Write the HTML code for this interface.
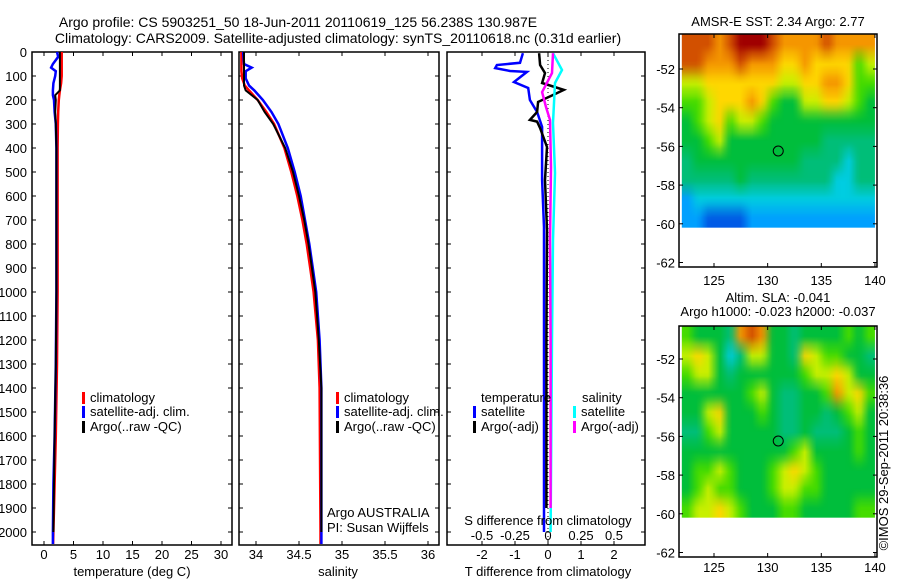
<!DOCTYPE html>
<html><head><meta charset="utf-8">
<style>
html,body{margin:0;padding:0;background:#fff;}
svg{display:block;font-family:"Liberation Sans",Arial,sans-serif;}
</style></head>
<body>
<svg id="chart" width="900" height="580" viewBox="0 0 900 580" xmlns="http://www.w3.org/2000/svg">
<text x="298" y="27" font-size="14" text-anchor="middle">Argo profile: CS 5903251_50 18-Jun-2011 20110619_125 56.238S 130.987E</text>
<text x="338" y="43" font-size="14" text-anchor="middle">Climatology: CARS2009. Satellite-adjusted climatology: synTS_20110618.nc (0.31d earlier)</text>
<g id="g"></g>
<text font-size="13" transform="translate(888,463) rotate(-90)" text-anchor="middle">©IMOS 29-Sep-2011 20:38:36</text>
</svg>
<script>
// ---- data ----
const tDepths=[0,20,50,65,80,100,130,160,180,200,250,300,400,500,700,1000,1300,1600,1800,2000,2050];
const tClim=[3.0,3.0,3.0,3.0,3.0,3.0,2.9,2.7,2.6,2.5,2.4,2.35,2.3,2.3,2.3,2.3,2.2,2.0,1.8,1.6,1.55];
const tSat=[2.2,2.4,1.5,1.2,2.0,1.9,1.6,1.5,1.5,1.7,1.8,2.0,2.1,2.1,2.1,2.1,2.0,1.8,1.6,1.5,1.5];
const tArgo=[2.7,2.7,2.7,2.7,2.7,2.7,2.7,2.7,1.9,2.0,1.9,2.0,2.1,2.1,2.1,2.1,2.0,1.8,1.7,1.6];
const sDepths=[0,50,65,80,110,140,160,200,250,300,400,500,600,700,800,900,1000,1200,1400,2000,2050];
const sClim=[33.83,33.83,33.83,33.83,33.84,33.87,33.92,34.02,34.12,34.21,34.33,34.41,34.48,34.54,34.59,34.63,34.67,34.72,34.74,34.75,34.75];
const sSat=[33.85,33.86,33.95,33.88,33.88,33.92,33.98,34.08,34.18,34.26,34.37,34.45,34.52,34.57,34.62,34.66,34.70,34.74,34.76,34.76,34.76];
const sArgo=[33.86,33.86,33.86,33.86,33.86,33.86,33.88,34.02,34.10,34.20,34.34,34.43,34.50,34.56,34.61,34.65,34.69,34.73,34.76,34.76];
const dtSatDepth=[5,45,54,67,79,83,125,150,200,250,312,533,730,1000,1500,2000];
const dtSat=[-0.76,-0.85,-1.55,-1.6,-1.15,-0.64,-1.03,-0.6,-0.55,-0.33,-0.18,-0.18,-0.12,-0.12,-0.12,-0.12];
const dtArgoDepth=[5,54,88,129,158,179,208,250,283,290,317,396,533,742,1200,1900];
const dtArgo=[-0.27,-0.24,-0.09,-0.18,0.48,0.15,-0.3,-0.33,-0.55,-0.33,-0.24,-0.03,-0.09,-0.03,-0.05,-0.05];
const dsSatDepth=[5,75,129,296,504,783,1200,2000];
const dsSat=[0.038,0.106,0.053,0.038,0.053,0.038,0.03,0.02];
const dsArgoDepth=[5,88,167,229,283,479,783,1200,1900];
const dsArgo=[0.038,0.03,-0.045,-0.015,0.015,0.023,0.015,0.02,0.02];
const depthTicks=[0,100,200,300,400,500,600,700,800,900,1000,1100,1200,1300,1400,1500,1600,1700,1800,1900,2000];
const tTicks=[0,5,10,15,20,25,30];
const sTicks=[34,34.5,35,35.5,36];
const sTickLabels=["34","34.5","35","35.5","36"];
const dTTicks=[-2,-1,0,1,2];
const dSTicks=[-0.5,-0.25,0,0.25,0.5];
const dSTickLabels=["-0.5","-0.25","0","0.25","0.5"];
const latTicks=[-52,-54,-56,-58,-60,-62];
const lonTicks=[125,130,135,140];
const argoPos=[130.987,-56.238];
const palette=[[0,90,230],[0,160,255],[0,205,225],[0,190,120],[0,190,60],[70,220,0],[200,240,0],[255,215,0],[245,150,0],[210,80,0],[160,0,0]];
const sstGrid=[
[9,9,9,8,9,10,10,10,9,8,8,8,8,9,8,8,8,8],
[9,9,8,8,8,9,8,8,8,7,7,8,7,7,7,7,5,6],
[6,6,7,7,7,7,7,7,7,6,6,7,7,8,8,7,5,5],
[5,5,6,7,7,7,8,7,5,4,4,6,6,7,7,6,5,4],
[4,5,6,7,5,6,6,5,4,4,4,4,4,4,4,4,4,4],
[4,4,5,6,4,4,4,4,4,4,4,4,4,3,3,3,3,3],
[3,4,4,4,4,4,4,4,4,4,4,3,3,3,3,2,3,3],
[3,3,3,3,3,4,3,3,3,3,3,3,3,3,2,2,3,3],
[1,2,2,2,2,2,2,2,2,2,2,2,2,2,2,2,2,2],
[1,1,0,0,0,0,1,1,1,1,1,1,1,1,1,1,1,1]];
const slaGrid=[
[5,4,4,4,3,8,9,8,4,4,3,4,4,4,4,5,4,5],
[6,7,6,4,2,3,6,6,4,4,3,7,6,5,5,4,4,3],
[5,6,6,4,3,4,4,4,4,4,4,5,6,6,7,6,4,4],
[4,4,4,4,4,4,5,6,4,3,3,4,4,5,8,6,7,5],
[4,4,6,7,4,4,4,5,4,3,3,4,4,3,4,5,6,4],
[3,3,5,6,4,4,4,4,4,3,3,4,3,3,3,4,5,4],
[4,4,4,4,4,4,4,4,4,4,5,6,4,4,4,4,5,4],
[4,5,5,6,5,4,4,4,5,6,7,6,5,4,4,4,4,4],
[4,5,6,5,5,4,4,4,5,6,6,5,5,4,4,4,4,4],
[5,6,6,7,6,5,4,4,4,5,5,4,4,4,4,4,5,5]];
const gridLon0=122, gridLat0=-50.2, gridStep=1;

// ---- helpers ----
const NS="http://www.w3.org/2000/svg";
const G=document.getElementById('g');
function el(tag,attrs,parent){const e=document.createElementNS(NS,tag);for(const k in attrs)e.setAttribute(k,attrs[k]);(parent||G).appendChild(e);return e;}
function txt(x,y,s,anchor,size,name){const t=el('text',{x:x,y:y,'font-size':size||13,'text-anchor':anchor||'start'});t.textContent=s;


return t;}
const Y=d=>52+d*0.24;
const PB=545;
function panel(x0,x1,name){const r=el('rect',{x:x0,y:52,width:x1-x0,height:PB-52,fill:'none',stroke:'#000','stroke-width':1.5});


depthTicks.forEach(d=>{el('line',{x1:x0,x2:x0+4,y1:Y(d),y2:Y(d),stroke:'#000'});el('line',{x1:x1-4,x2:x1,y1:Y(d),y2:Y(d),stroke:'#000'});});}
function xticks(vals,labels,fx,x0,yLab,name){vals.forEach((v,i)=>{const x=fx(v);el('line',{x1:x,x2:x,y1:52,y2:56,stroke:'#000'});el('line',{x1:x,x2:x,y1:PB-4,y2:PB,stroke:'#000'});
txt(x,yLab,labels[i],'middle',13,name);});}
function line(fx,vals,depths,color,w,name,dash){const pts=vals.map((v,i)=>fx(v).toFixed(1)+','+Y(depths[i]).toFixed(1)).join(' ');
const p=el('polyline',{points:pts,fill:'none',stroke:color,'stroke-width':w});if(dash)p.setAttribute('stroke-dasharray',dash);

}
function legend(x,y,color,s,name){el('rect',{x:x,y:y-10,width:3,height:12,fill:color});txt(x+8,y,s,'start',13,name);}

depthTicks.forEach(d=>txt(27,Y(d)+5,String(d),'end',13,'depth-tick-label'));

const fT=v=>44+v*5.9;
panel(32,232,'temperature-panel');
xticks(tTicks,tTicks.map(String),fT,32,559,'temperature-tick-label');
line(fT,tClim,tDepths,'#f00',2.5,'temperature-climatology-line');
line(fT,tSat,tDepths,'#00f',2.5,'temperature-satellite-line');
line(fT,tArgo,tDepths.slice(0,tArgo.length),'#000',2,'temperature-argo-line');
legend(82,402,'#f00','climatology','legend-climatology');
legend(82,416,'#00f','satellite-adj. clim.','legend-satellite');
legend(82,431,'#000','Argo(..raw -QC)','legend-argo');
txt(132,576,'temperature (deg C)','middle',13,'temperature-axis-title');

const fS=v=>256+(v-34)*86;
panel(239,439,'salinity-panel');
xticks(sTicks,sTickLabels,fS,239,559,'salinity-tick-label');
line(fS,sClim,sDepths,'#f00',2.5,'salinity-climatology-line');
line(fS,sSat,sDepths,'#00f',2.5,'salinity-satellite-line');
line(fS,sArgo,sDepths.slice(0,sArgo.length),'#000',2,'salinity-argo-line');
legend(336,402,'#f00','climatology','legend-climatology');
legend(336,416,'#00f','satellite-adj. clim.','legend-satellite');
legend(336,431,'#000','Argo(..raw -QC)','legend-argo');
txt(327,517,'Argo AUSTRALIA','start',13,'argo-australia-label');
txt(327,532,'PI: Susan Wijffels','start',13,'pi-label');
txt(338,576,'salinity','middle',13,'salinity-axis-title');

const fDT=v=>548+v*33;
const fDS=v=>548+v*132;
panel(447,645,'difference-panel');
xticks(dTTicks,dTTicks.map(String),fDT,447,559,'t-diff-tick-label');
dSTicks.forEach((v,i)=>txt(fDS(v),540,dSTickLabels[i],'middle',13,'s-diff-tick-label'));
el('line',{x1:fDT(0),x2:fDT(0),y1:52,y2:PB,stroke:'#000','stroke-dasharray':'1,3'});
line(fDT,dtSat,dtSatDepth,'#00f',2.5,'t-diff-satellite-line');
line(fDT,dtArgo,dtArgoDepth,'#000',2.5,'t-diff-argo-line');
line(fDS,dsSat,dsSatDepth,'#0ff',2.5,'s-diff-satellite-line');
line(fDS,dsArgo,dsArgoDepth,'#f0f',2.5,'s-diff-argo-line');
txt(481,402,'temperature','start',13,'legend-temperature-header');
txt(582,402,'salinity','start',13,'legend-salinity-header');
legend(473,416,'#00f','satellite','legend-t-satellite');
legend(473,431,'#000','Argo(-adj)','legend-t-argo');
legend(573,416,'#0ff','satellite','legend-s-satellite');
legend(573,431,'#f0f','Argo(-adj)','legend-s-argo');
txt(548,525,'S difference from climatology','middle',13,'s-diff-axis-title');
txt(548,576,'T difference from climatology','middle',13,'t-diff-axis-title');

function map(top,bottom,y52,grid,name,labY){
  const x0=679,x1=877, pxLat=19.35, pxLon=10.73;
  const fx=lon=>714+(lon-125)*pxLon, fy=lat=>y52+(-52-lat)*pxLat;
  const g=el('g',{});
  
  
  const rows=grid.length, cols=grid[0].length;
  const c=document.createElement('canvas');c.width=cols;c.height=rows;const ctx=c.getContext('2d');
  const im=ctx.createImageData(cols,rows);
  grid.forEach((row,r)=>row.forEach((v,k)=>{const p=palette[v],i=(r*cols+k)*4;im.data[i]=p[0];im.data[i+1]=p[1];im.data[i+2]=p[2];im.data[i+3]=255;}));
  ctx.putImageData(im,0,0);
  const gx0=fx(gridLon0), gw=cols*gridStep*pxLon, gh=rows*gridStep*pxLat;
  const big=document.createElement('canvas');big.width=Math.round(gw/4);big.height=Math.round(gh/4);
  const b=big.getContext('2d');b.imageSmoothingEnabled=true;b.drawImage(c,0,0,big.width,big.height);
  el('image',{x:gx0,y:top,width:gw,height:fy(gridLat0-rows*gridStep)-top,preserveAspectRatio:'none',href:big.toDataURL()},g);
  el('rect',{x:x1,y:top,width:20,height:bottom-top,fill:'#fff'},g);
  el('rect',{x:x0,y:top,width:x1-x0,height:bottom-top,fill:'none',stroke:'#000','stroke-width':1.5},g);
  latTicks.forEach(l=>{const y=fy(l);el('line',{x1:x0,x2:x0+4,y1:y,y2:y,stroke:'#000'},g);el('line',{x1:x1-4,x2:x1,y1:y,y2:y,stroke:'#000'},g);
    txt(675,y+5,String(l),'end',13,'latitude-tick-label');});
  lonTicks.forEach(l=>{const x=fx(l);el('line',{x1:x,x2:x,y1:top,y2:top+4,stroke:'#000'},g);el('line',{x1:x,x2:x,y1:bottom-4,y2:bottom,stroke:'#000'},g);
    txt(x,labY,String(l),'middle',13,'longitude-tick-label');});
  const m=el('circle',{cx:fx(argoPos[0]),cy:fy(argoPos[1]),r:5,fill:'none',stroke:'#000','stroke-width':1},g);
  
  
}
txt(778,26,'AMSR-E SST: 2.34  Argo: 2.77','middle',13,'sst-map-title');
map(34,267,69,sstGrid,'sst-map',285);
txt(778,302,'Altim. SLA: -0.041','middle',13,'sla-map-title');
txt(778,316,'Argo h1000: -0.023 h2000: -0.037','middle',13,'sla-map-subtitle');
map(326,557,359,slaGrid,'sla-map',572);
</script>
</body></html>
